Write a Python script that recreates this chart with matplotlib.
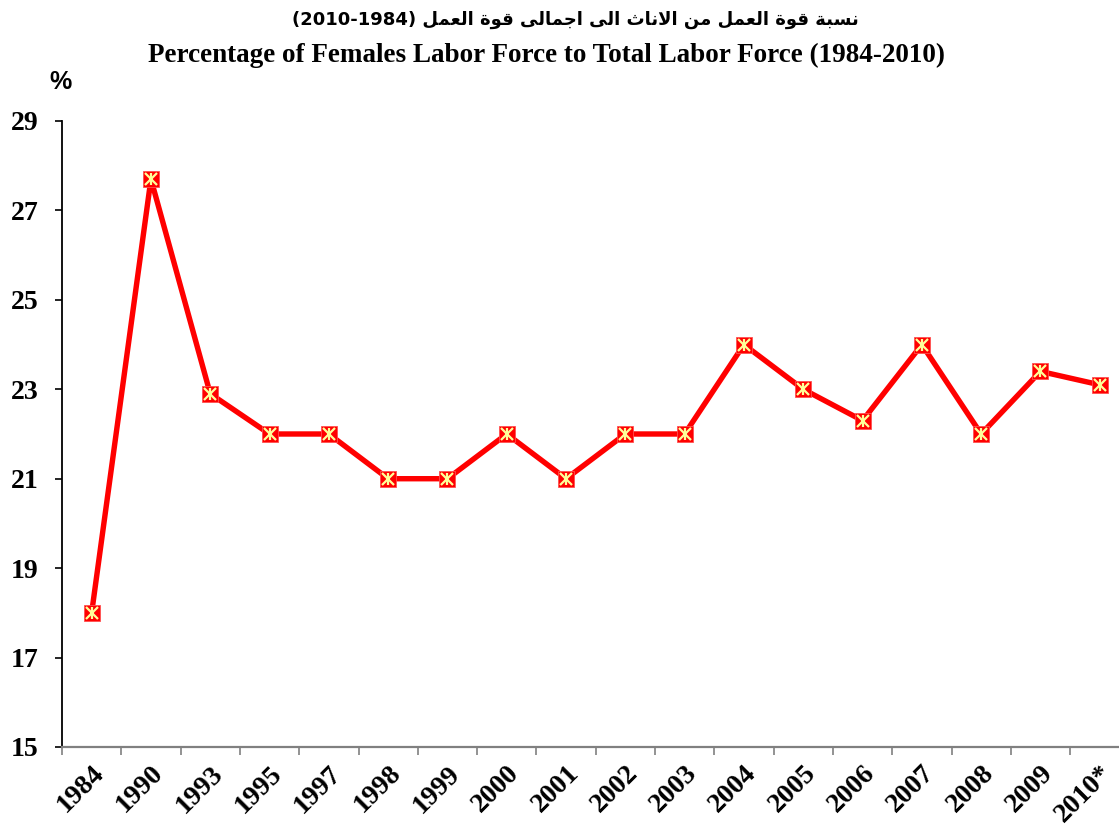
import matplotlib
matplotlib.use('Agg')
import matplotlib.pyplot as plt

years = ['1984', '1990', '1993', '1995', '1997', '1998', '1999', '2000', '2001',
         '2002', '2003', '2004', '2005', '2006', '2007', '2008', '2009', '2010*']
female_share = [18.0, 27.7, 22.9, 22.0, 22.0, 21.0, 21.0, 22.0, 21.0,
                22.0, 22.0, 24.0, 23.0, 22.3, 24.0, 22.0, 23.4, 23.1]
y_ticks = [15, 17, 19, 21, 23, 25, 27, 29]

title_ar = 'نسبة قوة العمل من الاناث الى اجمالى قوة العمل'
title_en = 'Percentage of Females Labor Force to Total Labor Force (1984-2010)'

# presentation forms: isolated, final, initial, medial
forms = {
    'ا': ('\uFE8D', '\uFE8E', None, None),
    'ب': ('\uFE8F', '\uFE90', '\uFE91', '\uFE92'),
    'ة': ('\uFE93', '\uFE94', None, None),
    'ث': ('\uFE99', '\uFE9A', '\uFE9B', '\uFE9C'),
    'ج': ('\uFE9D', '\uFE9E', '\uFE9F', '\uFEA0'),
    'س': ('\uFEB1', '\uFEB2', '\uFEB3', '\uFEB4'),
    'ع': ('\uFEC9', '\uFECA', '\uFECB', '\uFECC'),
    'ق': ('\uFED5', '\uFED6', '\uFED7', '\uFED8'),
    'ل': ('\uFEDD', '\uFEDE', '\uFEDF', '\uFEE0'),
    'م': ('\uFEE1', '\uFEE2', '\uFEE3', '\uFEE4'),
    'ن': ('\uFEE5', '\uFEE6', '\uFEE7', '\uFEE8'),
    'و': ('\uFEED', '\uFEEE', None, None),
    'ى': ('\uFEEF', '\uFEF0', '\uFBE8', '\uFBE9'),
    'ﻻ': ('\uFEFB', '\uFEFC', None, None),
}


def shape_arabic(text):
    out_words = []
    for word in text.split(' '):
        word = word.replace('لا', 'ﻻ')
        chars = []
        for i, ch in enumerate(word):
            prev_joins = i > 0 and forms[word[i - 1]][2] is not None
            next_joins = forms[ch][2] is not None and i < len(word) - 1
            iso, fin, ini, med = forms[ch]
            if prev_joins and next_joins:
                chars.append(med)
            elif prev_joins:
                chars.append(fin)
            elif next_joins:
                chars.append(ini)
            else:
                chars.append(iso)
        out_words.append(''.join(chars))
    return ' '.join(out_words)[::-1]


serif = 'Liberation Serif'
fig = plt.figure(figsize=(11.19, 8.30), dpi=100)
ax = fig.add_axes([62 / 1119, 83 / 830, 1067.4 / 1119, 626 / 830])

x = range(len(years))
ax.plot(x, female_share, color='#FF0000', lw=3.9, zorder=2, clip_on=False)
ax.plot(x, female_share, ls='none', marker='s', ms=11, mfc='#FF0000',
        mec='#FF5050', mew=0.6, zorder=3, clip_on=False)
ax.plot(x, female_share, ls='none', marker='x', ms=8, mec='#FFFF99',
        mew=1.6, zorder=4, clip_on=False)
ax.plot(x, female_share, ls='none', marker='|', ms=9, mec='#FFFF99',
        mew=1.6, zorder=4, clip_on=False)

ax.set_xlim(-0.5, len(years) - 0.5)
ax.set_ylim(15, 29)
ax.set_yticks(y_ticks)
ax.set_yticklabels([str(v) for v in y_ticks], fontfamily=serif,
                   fontweight='bold', fontsize=20)
ax.tick_params(axis='y', direction='out', length=5, width=1.2, pad=12)

ax.set_xticks([i - 0.5 for i in range(len(years) + 1)])
ax.set_xticklabels([])
ax.set_xticks(list(x), minor=True)
ax.set_xticklabels(years, minor=True, rotation=45, ha='right',
                   rotation_mode='anchor', fontfamily=serif,
                   fontweight='bold', fontsize=20)
ax.tick_params(axis='x', which='major', direction='out', length=6,
               width=1.2, color='#808080')
ax.tick_params(axis='x', which='minor', length=0, pad=10)

ax.spines['top'].set_visible(False)
ax.spines['right'].set_visible(False)
ax.spines['left'].set_linewidth(1.3)
ax.spines['bottom'].set_color('#808080')
ax.spines['bottom'].set_linewidth(1.6)

fig.text(60 / 1119, 1 - 82 / 830, '%', fontsize=18, fontweight='bold',
         family='Liberation Sans', ha='center', va='center')
fig.text(575 / 1119, 1 - 20 / 830, '(2010-1984) ' + shape_arabic(title_ar),
         fontsize=13, fontweight='bold', family='DejaVu Sans',
         ha='center', va='center')
fig.text(547 / 1119, 1 - 55 / 830, title_en, fontsize=19.5, fontweight='bold',
         family=serif, ha='center', va='center')

fig.savefig('out.png', dpi=100)
